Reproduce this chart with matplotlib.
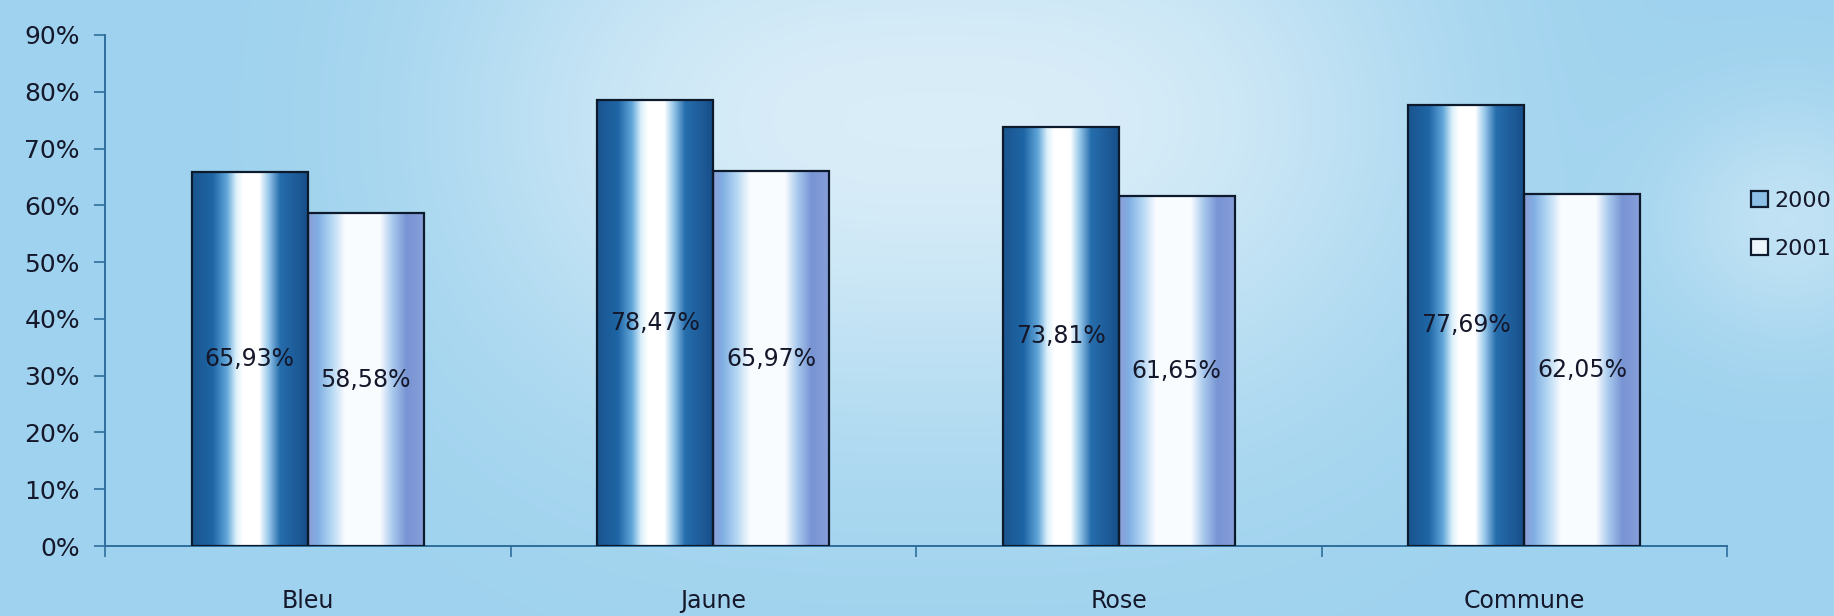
import numpy as np
import matplotlib
matplotlib.use("Agg")
import matplotlib.pyplot as plt
from matplotlib.colors import LinearSegmentedColormap
from matplotlib.patches import Rectangle

categories = ["Bleu", "Jaune", "Rose", "Commune"]
series_names = ["2000", "2001"]
values_2000 = [65.93, 78.47, 73.81, 77.69]
values_2001 = [58.58, 65.97, 61.65, 62.05]
labels_2000 = ["65,93%", "78,47%", "73,81%", "77,69%"]
labels_2001 = ["58,58%", "65,97%", "61,65%", "62,05%"]
yticks = [0, 10, 20, 30, 40, 50, 60, 70, 80, 90]
ytick_labels = ["0%", "10%", "20%", "30%", "40%", "50%", "60%", "70%", "80%", "90%"]

W, H, DPI = 1834, 616, 100
fig = plt.figure(figsize=(W / DPI, H / DPI), dpi=DPI)

# ---- background (light sky blue with a soft whitish glow) ----
bg = fig.add_axes([0, 0, 1, 1], zorder=-10)
yy, xx = np.mgrid[0:H, 0:W]
base = np.array([158, 210, 238]) / 255.0
white = np.array([228, 242, 250]) / 255.0
g1 = np.exp(-((np.abs(xx - 940) / 470.0) ** 3 + (np.abs(yy - 120) / 300.0) ** 2)) * 0.85
g2 = np.exp(-(((xx - 1790) / 130.0) ** 2 + ((yy - 220) / 120.0) ** 2)) * 0.5
g = np.clip(g1 + g2, 0, 1)[..., None]
img = base * (1 - g) + white * g
bg.imshow(img, aspect="auto", extent=[0, 1, 0, 1], origin="upper")
bg.set_axis_off()

ax = fig.add_axes([105 / W, 1 - 546 / H, (1727 - 105) / W, (546 - 35) / H])
ax.patch.set_alpha(0)

n = len(categories)
x = np.arange(n)
width = 1 / 3.5

grad_2000 = LinearSegmentedColormap.from_list("g2000", [
    (0.00, (0.10, 0.33, 0.56)),
    (0.18, (0.12, 0.40, 0.65)),
    (0.30, (0.38, 0.65, 0.85)),
    (0.38, (0.86, 0.94, 0.98)),
    (0.44, (1.00, 1.00, 1.00)),
    (0.58, (1.00, 1.00, 1.00)),
    (0.66, (0.60, 0.79, 0.92)),
    (0.76, (0.15, 0.43, 0.68)),
    (1.00, (0.09, 0.31, 0.54)),
])
grad_2001 = LinearSegmentedColormap.from_list("g2001", [
    (0.00, (0.55, 0.62, 0.84)),
    (0.08, (0.50, 0.68, 0.89)),
    (0.20, (0.70, 0.84, 0.95)),
    (0.32, (0.98, 0.99, 1.00)),
    (0.62, (0.98, 0.99, 1.00)),
    (0.73, (0.66, 0.79, 0.93)),
    (0.85, (0.47, 0.58, 0.83)),
    (1.00, (0.53, 0.62, 0.85)),
])

bars0 = ax.bar(x - width / 2, values_2000, width, facecolor="none",
               edgecolor="#0d1a2b", linewidth=1.6, zorder=3, label=series_names[0])
bars1 = ax.bar(x + width / 2, values_2001, width, facecolor="none",
               edgecolor="#0d1a2b", linewidth=1.6, zorder=3, label=series_names[1])

profile = np.linspace(0, 1, 256)[None, :]
for bars, cmap in ((bars0, grad_2000), (bars1, grad_2001)):
    for b in bars:
        x0, w, h = b.get_x(), b.get_width(), b.get_height()
        ax.imshow(profile, cmap=cmap, aspect="auto",
                  extent=[x0, x0 + w, 0, h], zorder=2, interpolation="bilinear")

txt_kw = dict(ha="center", va="center", fontsize=17, color="#15172a", zorder=5,
              family="DejaVu Sans")
for b, lab in zip(bars0, labels_2000):
    ax.text(b.get_x() + b.get_width() / 2, b.get_height() / 2, lab, **txt_kw)
for b, lab in zip(bars1, labels_2001):
    ax.text(b.get_x() + b.get_width() / 2, b.get_height() / 2, lab, **txt_kw)

ax.set_xlim(-0.5, n - 0.5)
ax.set_ylim(0, 90)
ax.set_yticks(yticks)
ax.set_yticklabels(ytick_labels, fontsize=18, color="#15172a")
ax.set_xticks(x)
ax.set_xticklabels(categories, fontsize=17, color="#15172a")
ax.set_xticks(np.arange(n + 1) - 0.5, minor=True)
ax.tick_params(axis="x", which="major", length=0, pad=31)
ax.tick_params(axis="x", which="minor", length=8, width=1.2, color="#2f6e9c", direction="out")
ax.tick_params(axis="y", length=8, width=1.2, color="#2f6e9c", direction="out", pad=10)
for s in ("top", "right"):
    ax.spines[s].set_visible(False)
for s in ("left", "bottom"):
    ax.spines[s].set_color("#2f6e9c")
    ax.spines[s].set_linewidth(1.4)
ax.set_zorder(1)

# legend
h0 = Rectangle((0, 0), 1, 1, facecolor=(0.55, 0.75, 0.9), edgecolor="#0d1a2b", linewidth=1.6)
h1 = Rectangle((0, 0), 1, 1, facecolor=(0.93, 0.96, 0.99), edgecolor="#0d1a2b", linewidth=1.6)
leg = fig.legend([h0, h1], series_names, loc="upper left",
                 bbox_to_anchor=(1742 / W, 1 - 182 / H), frameon=False,
                 fontsize=16, handlelength=0.75, handleheight=0.75,
                 handletextpad=0.3, labelspacing=1.25, borderaxespad=0)
for t in leg.get_texts():
    t.set_color("#15172a")

fig.savefig("out.png", dpi=DPI)
